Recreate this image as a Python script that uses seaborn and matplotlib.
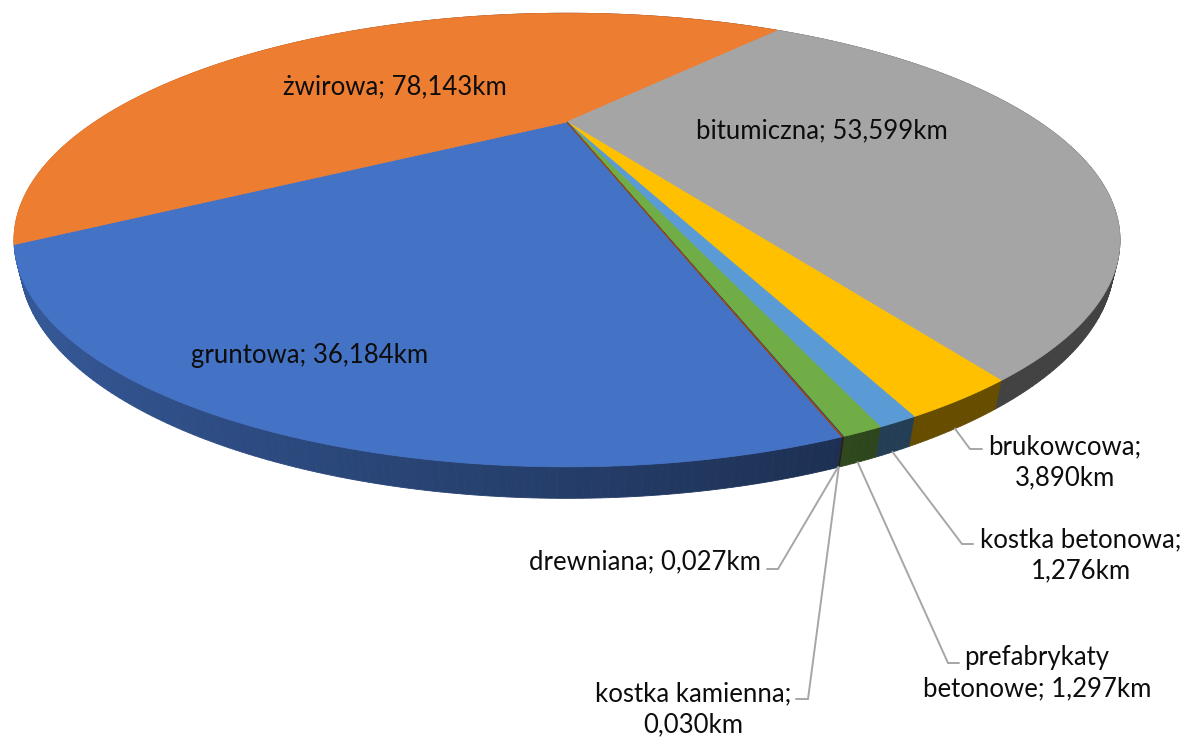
import numpy as np
import matplotlib
matplotlib.use("Agg")
import matplotlib.pyplot as plt
import seaborn as sns
from matplotlib.patches import Polygon

# Data: road surface lengths (km), in the order of the pie slices (clockwise)
categories = ["gruntowa", "żwirowa", "bitumiczna", "brukowcowa", "kostka betonowa",
              "prefabrykaty betonowe", "kostka kamienna", "drewniana"]
lengths_km = [36.184, 78.143, 53.599, 3.890, 1.276, 1.297, 0.030, 0.027]
slice_colors = ["#4472C4", "#ED7D31", "#A5A5A5", "#FFC000", "#5B9BD5",
                "#70AD47", "#264478", "#9E480E"]

# Label layout (pixel positions from the top-left of the figure)
label_breaks = {"brukowcowa": "brukowcowa;\n", "kostka betonowa": "kostka betonowa;\n",
                "prefabrykaty betonowe": "prefabrykaty\nbetonowe; ",
                "kostka kamienna": "kostka kamienna;\n"}
label_pos = [(310, 355), (395, 87), (822, 131), (1065, 462), (1081, 555),
             (1037, 673), (693, 709), (645, 562)]
# leader elbows: (elbow x, elbow y, stub end x); None = label inside slice
leader_elbow = [None, None, None, (970, 449, 982), (962, 544, 973),
                (948, 663, 959), (808, 699, 796), (778, 569, 767)]

# Perspective view of the pie (Excel-like 3D pie)
TILT = np.radians(20.5)
S, C = np.sin(TILT), np.cos(TILT)
DIST = 1.80
FOCAL = 850.0
THICK = 0.041
START = 287.0          # first slice edge, degrees counterclockwise from +x
CENTER = (567, 122)    # pie centre in pixels
W, H = 1200, 740


def project(phi_deg, r=1.0, z=0.0):
    phi = np.radians(phi_deg)
    x, y = r * np.cos(phi), r * np.sin(phi)
    depth = DIST + y * C - z * S
    return FOCAL * x / depth, FOCAL * (y * S + z * C) / depth


def shade(hex_color, phi_deg):
    rgb = np.array(matplotlib.colors.to_rgb(hex_color))
    k = 0.4 + 0.4 * max(0.0, np.cos(np.radians(phi_deg - 200)))
    return tuple(rgb * k)


sns.set_theme(style="white")
plt.rcParams["font.family"] = ["Lato", "DejaVu Sans"]

fig = plt.figure(figsize=(12, 7.4), dpi=100)
ax = fig.add_axes([0, 0, 1, 1])
ax.set_xlim(-CENTER[0], W - CENTER[0])
ax.set_ylim(CENTER[1] - H, CENTER[1])
ax.axis("off")

vals = np.array(lengths_km)
edges = START - 360 * np.concatenate([[0], np.cumsum(vals / vals.sum())])

# side walls, far strips first
strips = []
for i, col in enumerate(slice_colors):
    a0, a1 = edges[i], edges[i + 1]
    n = max(2, int(abs(a0 - a1) / 0.5) + 1)
    phis = np.linspace(a0, a1, n)
    for p0, p1 in zip(phis[:-1], phis[1:]):
        mid = 0.5 * (p0 + p1)
        t0, t1 = project(p0), project(p1)
        b0, b1 = project(p0, z=-THICK), project(p1, z=-THICK)
        depth = DIST + np.sin(np.radians(mid)) * C
        strips.append((depth, [t0, t1, b1, b0], shade(col, mid)))
strips.sort(key=lambda s: -s[0])
for _, pts, c in strips:
    ax.add_patch(Polygon(pts, closed=True, facecolor=c, edgecolor=c, lw=0.6))

# top faces
for i, col in enumerate(slice_colors):
    a0, a1 = edges[i], edges[i + 1]
    phis = np.linspace(a0, a1, max(2, int(abs(a0 - a1) * 2) + 1))
    u, v = project(phis)
    pts = np.column_stack([np.r_[0, u], np.r_[0, v]])
    ax.add_patch(Polygon(pts, closed=True, facecolor=col, edgecolor=col, lw=0.6))


def to_data(px, py):
    return px - CENTER[0], CENTER[1] - py


# labels and leader lines
for i, name in enumerate(categories):
    value = f"{lengths_km[i]:.3f}".replace(".", ",") + "km"
    text = label_breaks.get(name, name + "; ") + value
    tx, ty = to_data(*label_pos[i])
    ax.text(tx, ty, text, ha="center", va="center", fontsize=18.5,
            color="#0D0D0D", linespacing=1.3)
    if leader_elbow[i] is not None:
        mid = 0.5 * (edges[i] + edges[i + 1])
        ax_, ay_ = project(mid, z=-THICK)
        ex, ey = to_data(leader_elbow[i][0], leader_elbow[i][1])
        sx, _ = to_data(leader_elbow[i][2], 0)
        ax.plot([ax_, ex, sx], [ay_, ey, ey], color="#A6A6A6", lw=1.4,
                solid_joinstyle="miter")

fig.savefig("out.png", dpi=100)
